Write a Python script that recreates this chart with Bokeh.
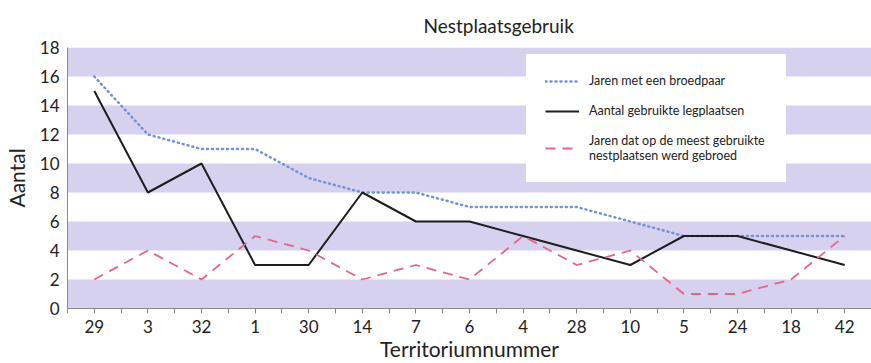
from bokeh.plotting import figure
from bokeh.models import (ColumnDataSource, FixedTicker, Legend, LegendItem,
                          BoxAnnotation, Range1d)
from bokeh.embed import file_html
from bokeh.resources import INLINE

territories = ["29", "3", "32", "1", "30", "14", "7", "6", "4", "28", "10", "5", "24", "18", "42"]
jaren_broedpaar = [16, 12, 11, 11, 9, 8, 8, 7, 7, 7, 6, 5, 5, 5, 5]
gebruikte_legplaatsen = [15, 8, 10, 3, 3, 8, 6, 6, 5, 4, 3, 5, 5, 4, 3]
jaren_meest_gebruikt = [2, 4, 2, 5, 4, 2, 3, 2, 5, 3, 4, 1, 1, 2, 5]
band_starts = [0, 4, 8, 12, 16]
y_ticks = list(range(0, 19, 2))

FONT = "Lato"
x = list(range(len(territories)))
src = ColumnDataSource(dict(x=x, a=jaren_broedpaar, b=gebruikte_legplaatsen, c=jaren_meest_gebruikt))

p = figure(frame_width=804, frame_height=261, output_backend="svg", toolbar_location=None,
           x_range=Range1d(-0.5, len(territories) - 0.5), y_range=Range1d(0, 18),
           min_border_left=58, min_border_right=0, min_border_top=46, min_border_bottom=40,
           title="Nestplaatsgebruik")
p.outline_line_color = None
p.background_fill_color = "white"
p.grid.visible = False

p.title.text_font = FONT
p.title.text_font_size = "19px"
p.title.text_font_style = "normal"
p.title.text_color = "#222222"
p.title.align = "left"
p.title.offset = 356
p.title.standoff = 22

for s in band_starts:
    p.add_layout(BoxAnnotation(bottom=s, top=s + 2, fill_color="#d6d1ef", fill_alpha=1.0,
                               line_color=None, level="underlay"))

r_a = p.line("x", "a", source=src, line_color="#7393d6", line_width=2.5, line_dash="1 4",
             line_cap="round")
r_b = p.line("x", "b", source=src, line_color="#1e1e1e", line_width=2)
r_c = p.line("x", "c", source=src, line_color="#e0668c", line_width=1.8, line_dash="10 7")

p.xaxis.ticker = FixedTicker(ticks=x, minor_ticks=[i - 0.5 for i in range(len(territories) + 1)])
p.xaxis.major_label_overrides = {i: t for i, t in enumerate(territories)}
p.yaxis.ticker = FixedTicker(ticks=y_ticks, minor_ticks=[])

for ax in (p.xaxis, p.yaxis):
    ax.axis_line_color = "#888888"
    ax.axis_line_width = 1
    ax.major_tick_line_color = "#888888"
    ax.minor_tick_line_color = "#888888"
    ax.major_label_text_font = FONT
    ax.major_label_text_font_size = "17px"
    ax.major_label_text_color = "#222222"
    ax.axis_label_text_font = FONT
    ax.axis_label_text_font_size = "21px"
    ax.axis_label_text_font_style = "normal"
    ax.axis_label_text_color = "#222222"

p.xaxis.major_tick_in = 0
p.xaxis.major_tick_out = 5
p.xaxis.minor_tick_in = 0
p.xaxis.minor_tick_out = 5
p.xaxis.major_label_standoff = 6
p.xaxis.axis_label = "Territoriumnummer"
p.xaxis.axis_label_standoff = 0

p.yaxis.major_tick_in = 0
p.yaxis.major_tick_out = 0
p.yaxis.major_label_standoff = 8
p.yaxis.axis_label = "Aantal"
p.yaxis.axis_label_standoff = 8

legend = Legend(items=[
    LegendItem(label="Jaren met een broedpaar", renderers=[r_a]),
    LegendItem(label="Aantal gebruikte legplaatsen", renderers=[r_b]),
    LegendItem(label="Jaren dat op de meest gebruikte\nnestplaatsen werd gebroed", renderers=[r_c]),
], location=(459, 126))
legend.label_text_font = FONT
legend.label_text_font_size = "12.5px"
legend.label_text_color = "#222222"
legend.border_line_color = "white"
legend.background_fill_color = "white"
legend.background_fill_alpha = 1.0
legend.glyph_width = 34
legend.label_standoff = 10
legend.label_width = 178
legend.padding = 18
legend.margin = 0
legend.spacing = 15
legend.label_height = 14
legend.glyph_height = 14
p.add_layout(legend)

open("out.html", "w").write(file_html(p, INLINE))
